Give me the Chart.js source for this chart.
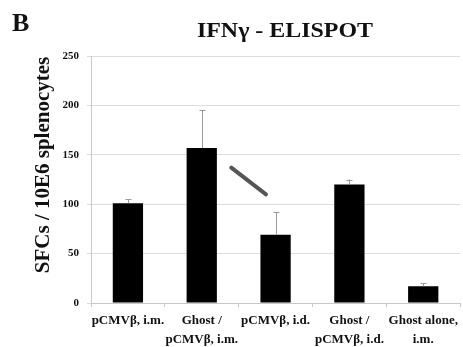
<!DOCTYPE html>
<html>
<head>
<meta charset="utf-8">
<script src="https://cdn.jsdelivr.net/npm/chart.js@4"></script>
<style>
  html, body { margin: 0; padding: 0; background: #fff; }
  #wrap { width: 463px; height: 347px; }
</style>
</head>
<body>
<div id="wrap"><canvas id="elispot"></canvas></div>
<script>
'use strict';

// IFNg ELISPOT bars

var groups = [
	'pCMV\u03b2, i.m.',
	['Ghost /', 'pCMV\u03b2, i.m.'],
	'pCMV\u03b2, i.d.',
	['Ghost /', 'pCMV\u03b2, i.d.'],
	['Ghost alone,', 'i.m.']
];
var sfcMeans = [101, 157, 69, 120, 17];
var sfcErrors = [4, 38, 23, 5, 3];
var yTicks = [0, 50, 100, 150, 200, 250];
// the hand-drawn slash between bar 2 and 3, in (category index, SFC) units
var slashFrom = [1.40, 137];
var slashTo = [1.87, 110];

var serif = '"Liberation Serif", "Times New Roman", serif';

var errorBars = {
	id: 'errorBars',
	afterDatasetsDraw: function (chart) {
		var c = chart.ctx, xs = chart.scales.x, ys = chart.scales.y;
		c.save();
		c.strokeStyle = '#9a9a9a';
		c.lineWidth = 1;
		sfcMeans.forEach(function (v, i) {
			var x = Math.round(xs.getPixelForValue(i)) + 0.5;
			var y0 = ys.getPixelForValue(v);
			var y1 = ys.getPixelForValue(v + sfcErrors[i]);
			c.beginPath();
			c.moveTo(x, y0);
			c.lineTo(x, y1);
			c.moveTo(x - 3, Math.round(y1) + 0.5);
			c.lineTo(x + 3, Math.round(y1) + 0.5);
			c.stroke();
		});
		// slash mark
		c.strokeStyle = '#555';
		c.lineWidth = 4;
		c.lineCap = 'round';
		c.beginPath();
		c.moveTo(xs.getPixelForValue(slashFrom[0]), ys.getPixelForValue(slashFrom[1]));
		c.lineTo(xs.getPixelForValue(slashTo[0]), ys.getPixelForValue(slashTo[1]));
		c.stroke();
		c.restore();
	}
};

var labels = {
	id: 'labels',
	afterDraw: function (chart) {
		var c = chart.ctx;
		c.save();
		c.fillStyle = '#111';
		c.textBaseline = 'middle';
		c.font = 'bold 26px ' + serif;
		c.textAlign = 'left';
		c.fillText('B', 12, 24);

		c.save();
		c.translate(285, 32);
		c.scale(1.14, 1);
		c.font = 'bold 21px ' + serif;
		c.textAlign = 'center';
		c.fillText('IFN\u03b3 - ELISPOT', 0, 0);
		c.restore();

		c.translate(44, 165);
		c.rotate(-Math.PI / 2);
		c.scale(1.05, 1);
		c.textAlign = 'center';
		c.font = 'bold 20px ' + serif;
		c.fillText('SFCs / 10E6 splenocytes', 0, 0);
		c.restore();
	}
};

var ctx = document.getElementById('elispot');

var barChart = new Chart(ctx, {
	type: 'bar',
	data: {
		labels: groups,
		datasets: [{
			label: 'SFCs',
			data: sfcMeans,
			backgroundColor: '#000',
			borderWidth: 0,
			categoryPercentage: 1,
			barPercentage: 0.41
		}]
	},
	options: {
		responsive: true,
		maintainAspectRatio: false,
		animation: false,
		layout: { padding: { top: 56, right: 1, left: 0, bottom: 0 } },
		plugins: {
			legend: { display: false },
			tooltip: { enabled: false }
		},
		scales: {
			x: {
				afterFit: function (s) { s.height = 44; },
				grid: { drawOnChartArea: false, color: '#c8c8c8', tickLength: 4 },
				border: { color: '#c8c8c8' },
				ticks: {
					color: '#111',
					padding: 5,
					maxRotation: 0,
					autoSkip: false,
					font: { family: serif, weight: 'bold', size: 13, lineHeight: 1.4 }
				}
			},
			y: {
				min: 0,
				max: 250,
				afterFit: function (s) { s.width = 91; },
				afterBuildTicks: function (s) {
					s.ticks = yTicks.map(function (v) { return { value: v }; });
				},
				grid: { color: '#dcdcdc', tickLength: 4 },
				border: { color: '#c8c8c8' },
				ticks: {
					color: '#111',
					padding: 8,
					font: { family: serif, weight: 'bold', size: 11 }
				}
			}
		}
	},
	plugins: [errorBars, labels]
});
</script>
</body>
</html>
